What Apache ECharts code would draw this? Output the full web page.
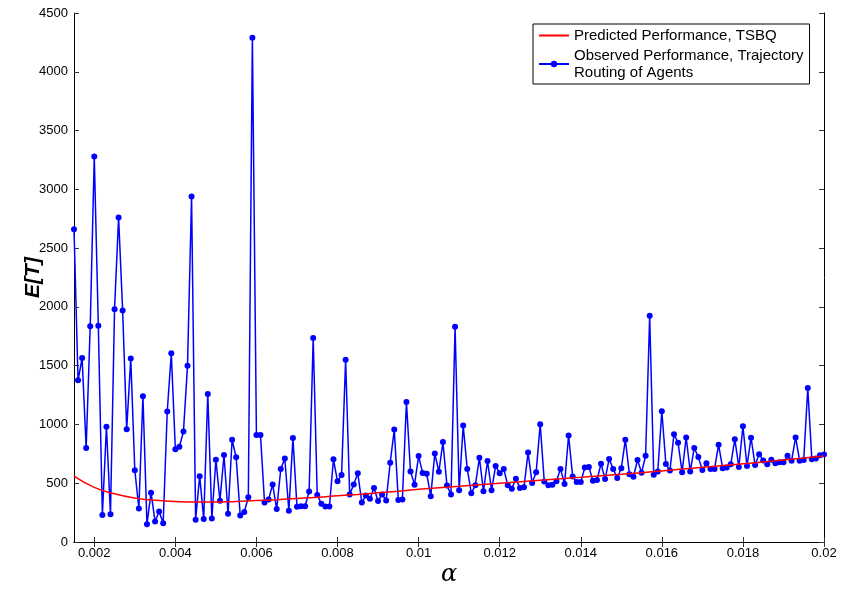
<!DOCTYPE html>
<html><head><meta charset="utf-8">
<script src="https://cdn.jsdelivr.net/npm/echarts@6/dist/echarts.min.js"></script>
<style>html,body{margin:0;padding:0;background:#fff}#c{width:844px;height:592px}</style>
</head><body><div id="c"></div>
<script>
// Observed E[T] for alpha = 0.0015, 0.0016, ..., 0.0200 (step 0.0001)
const observed = [
2660,1375,1565,800,1835,3280,1840,230,980,235,
1980,2760,1970,960,1560,610,285,1240,150,420,
175,260,160,1110,1605,790,810,940,1500,2940,
190,560,195,1260,200,700,350,740,240,870,
720,225,255,380,4290,910,910,335,362,490,
280,620,710,265,884,300,304,304,430,1735,
400,326,301,301,703,516,571,1550,404,490,
585,335,396,368,460,349,404,354,675,956,
357,362,1190,599,488,731,588,580,390,753,
597,850,480,404,1830,440,990,622,415,482,
716,432,689,440,647,585,622,482,454,538,
460,466,761,502,594,1001,515,482,488,516,
622,494,906,558,510,510,633,639,521,527,
666,535,705,622,544,627,870,577,555,697,
590,733,1925,572,600,1112,664,608,917,845,
594,889,600,800,722,613,669,622,622,828,
627,633,661,875,637,984,647,887,655,747,
694,661,700,669,678,678,733,691,889,691,
697,1310,703,711,739,744
];
const alphaFirstTenThousandths = 15; // 0.0015
const predAlpha = [0.0015,0.002,0.0025,0.003,0.0035,0.004,0.0045,0.005,0.0055,0.006,0.0065,0.007,0.0075,0.008,0.0085,0.009,0.0095,0.010,0.0105,0.011,0.0115,0.012,0.0125,0.013,0.0135,0.014,0.0145,0.015,0.0155,0.016,0.0165,0.017,0.0175,0.018,0.0185,0.019,0.0195,0.020];
const predicted = [560,465,410,375,355,345,340,340,345,352,360,370,380,393,405,418,432,448,462,475,488,500,512,525,538,550,563,576,590,605,620,635,650,665,680,697,714,732];
const xTickValues = [0.002,0.004,0.006,0.008,0.01,0.012,0.014,0.016,0.018,0.02];
const xTickLabels = ['0.002','0.004','0.006','0.008','0.01','0.012','0.014','0.016','0.018','0.02'];

const namePred = 'Predicted Performance, TSBQ';
const nameObs = 'Observed Performance, Trajectory\nRouting of Agents';

const obsData = observed.map((v, i) => [(alphaFirstTenThousandths + i) / 10000, v]);
const predData = predAlpha.map((a, i) => [a, predicted[i]]);

const FONT = '"Liberation Sans", Arial, Helvetica, sans-serif';
const tickStyle = { show: true, inside: true, length: 5, lineStyle: { color: '#333', width: 1 } };
const lineStyle = { show: true, lineStyle: { color: '#000', width: 1 } };

const chart = echarts.init(document.getElementById('c'), null, { renderer: 'canvas' });
chart.setOption({
  animation: false,
  backgroundColor: '#fff',
  grid: { left: 74, right: 20, top: 13, bottom: 47, containLabel: false },
  legend: {
    orient: 'vertical', left: 533, top: 24,
    backgroundColor: '#fff', borderColor: '#000', borderWidth: 1, borderRadius: 0,
    padding: [3, 6, 3, 5], itemGap: 3, itemWidth: 30, itemHeight: 8,
    textStyle: { fontFamily: FONT, fontSize: 15, color: '#000', lineHeight: 17 },
    data: [{ name: namePred, itemStyle: { opacity: 0 } }, { name: nameObs }]
  },
  xAxis: [{
    type: 'value', min: 0.0015, max: 0.02, position: 'bottom',
    name: 'α', nameLocation: 'middle', nameGap: 21, nameMoveOverlap: false,
    nameTextStyle: { fontFamily: '"DejaVu Serif", "Liberation Serif", serif', fontStyle: 'italic', fontSize: 24, color: '#000' },
    axisLine: lineStyle,
    axisTick: Object.assign({ customValues: xTickValues }, tickStyle),
    axisLabel: { customValues: xTickValues, fontFamily: FONT, fontSize: 13, color: '#000', margin: 5,
      formatter: v => { const k = xTickValues.findIndex(t => Math.abs(t - v) < 1e-9); return k >= 0 ? xTickLabels[k] : ''; } },
    splitLine: { show: false }
  }, {
    type: 'value', min: 0.0015, max: 0.02, position: 'top',
    axisLine: lineStyle,
    axisTick: Object.assign({ customValues: xTickValues }, tickStyle),
    axisLabel: { show: false }, splitLine: { show: false }
  }],
  yAxis: [{
    type: 'value', min: 0, max: 4500, interval: 500, position: 'left',
    name: 'E[T]', nameLocation: 'middle', nameGap: 30, nameMoveOverlap: false,
    nameTextStyle: { fontFamily: FONT, fontStyle: 'italic', fontWeight: 'bold', fontSize: 21, color: '#000' },
    axisLine: lineStyle, axisTick: tickStyle,
    axisLabel: { fontFamily: FONT, fontSize: 13, color: '#000', margin: 6, formatter: v => String(v) },
    splitLine: { show: false }
  }, {
    type: 'value', min: 0, max: 4500, interval: 500, position: 'right',
    axisLine: lineStyle, axisTick: tickStyle,
    axisLabel: { show: false }, splitLine: { show: false }
  }],
  series: [{
    name: namePred, type: 'line', data: predData, smooth: true,
    showSymbol: false, symbol: 'none',
    lineStyle: { color: '#ff0000', width: 1.5 }, itemStyle: { color: '#ff0000' }, z: 3
  }, {
    name: nameObs, type: 'line', data: obsData,
    symbol: 'circle', symbolSize: 6, showAllSymbol: true,
    lineStyle: { color: '#0000ff', width: 1.5 }, itemStyle: { color: '#0000ff' }, z: 2
  }]
});
</script>
</body></html>
